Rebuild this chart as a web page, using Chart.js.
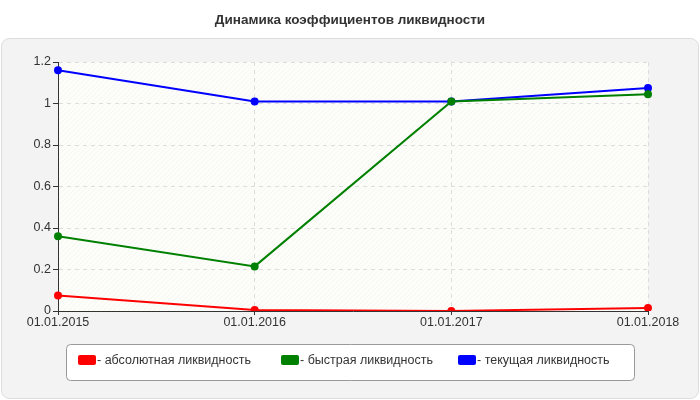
<!DOCTYPE html>
<html><head><meta charset="utf-8">
<script src="https://cdn.jsdelivr.net/npm/chart.js@4"></script>
<style>body{margin:0;background:#fff}#wrap{width:700px;height:400px}</style>
</head><body><div id="wrap"><canvas id="c"></canvas></div>
<script>
var chartTitle = "Динамика коэффициентов ликвидности";
var dates = ["01.01.2015", "01.01.2016", "01.01.2017", "01.01.2018"];
var absolute = [0.075, 0.005, 0.0, 0.015];
var quick = [0.36, 0.215, 1.01, 1.045];
var current = [1.16, 1.01, 1.01, 1.075];
var names = ["- абсолютная ликвидность", "- быстрая ликвидность", "- текущая ликвидность"];
var colors = ["#ff0000", "#008000", "#0000ff"];

var deco = {
  id: "deco",
  beforeDraw: function (chart) {
    var ctx = chart.ctx, a = chart.chartArea;
    ctx.save();
    ctx.fillStyle = "#f3f3f3"; ctx.strokeStyle = "#dcdcdc";
    ctx.beginPath(); ctx.roundRect(1.5, 38.5, 697, 360, 8); ctx.fill(); ctx.stroke();
    ctx.fillStyle = "#333"; ctx.font = "bold 13.5px Arial, 'Liberation Sans'";
    ctx.textAlign = "center"; ctx.textBaseline = "middle";
    ctx.fillText(chartTitle, 350, 20);
    ctx.fillStyle = "#fdfdf9";
    ctx.fillRect(a.left, a.top, a.right - a.left, a.bottom - a.top);
    ctx.beginPath(); ctx.rect(a.left, a.top, a.right - a.left, a.bottom - a.top); ctx.clip();
    ctx.strokeStyle = "rgba(0,0,0,0.03)"; ctx.lineWidth = 1;
    for (var x = a.left - 300; x < a.right; x += 5) {
      ctx.beginPath(); ctx.moveTo(x, a.bottom); ctx.lineTo(x + 300, a.bottom - 300); ctx.stroke();
    }
    ctx.restore();
  },
  afterDraw: function (chart) {
    var ctx = chart.ctx;
    ctx.save();
    ctx.fillStyle = "#fff"; ctx.strokeStyle = "#999";
    ctx.beginPath(); ctx.roundRect(66.5, 344.5, 568, 36, 4); ctx.fill(); ctx.stroke();
    ctx.font = "12.5px Arial, 'Liberation Sans'"; ctx.textBaseline = "middle";
    var xs = [78, 281, 458];
    for (var i = 0; i < 3; i++) {
      ctx.fillStyle = colors[i];
      ctx.beginPath(); ctx.roundRect(xs[i], 355, 18, 10, 2); ctx.fill();
      ctx.fillStyle = "#333"; ctx.fillText(names[i], xs[i] + 19, 361);
    }
    ctx.restore();
  }
};

function ds(label, data, color) {
  return { label: label, data: data, borderColor: color, backgroundColor: color,
    borderWidth: 2, pointRadius: 3, pointBackgroundColor: color, tension: 0, fill: false };
}

new Chart("c", {
  type: "line",
  data: { labels: dates, datasets: [ds(names[0], absolute, colors[0]), ds(names[1], quick, colors[1]), ds(names[2], current, colors[2])] },
  options: {
    responsive: true, maintainAspectRatio: false, animation: false,
    layout: { padding: { top: 62, bottom: 67, left: 0, right: 52 } },
    plugins: { legend: { display: false }, title: { display: false }, tooltip: { enabled: false } },
    scales: {
      x: { offset: false,
        grid: { color: "#dddddd", tickLength: 4, tickColor: "#333" },
        border: { color: "#333", dash: [4, 4] },
        ticks: { color: "#333", font: { size: 12.5, family: "Arial, 'Liberation Sans'" }, maxRotation: 0, padding: 0 },
        afterFit: function (s) { s.height = 22; } },
      y: { min: 0, max: 1.2,
        grid: { color: "#dddddd", tickLength: 5, tickColor: "#333" },
        border: { color: "#333", dash: [4, 4] },
        ticks: { stepSize: 0.2, color: "#333", font: { size: 12.5, family: "Arial, 'Liberation Sans'" }, padding: 2,
          callback: function (v) { return Math.round(v * 10) / 10; } },
        afterFit: function (s) { s.width = 58; } }
    }
  },
  plugins: [deco]
});
</script></body></html>
